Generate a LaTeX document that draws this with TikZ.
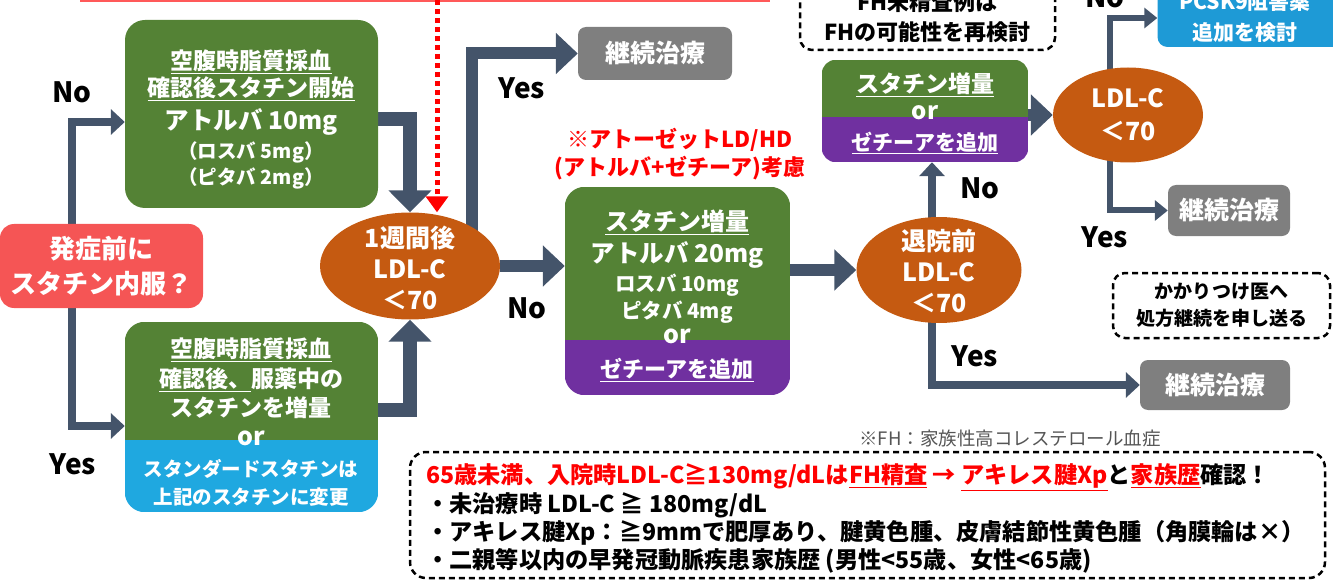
\documentclass[tikz,border=0pt]{standalone}
\usepackage{fontspec}
\setmainfont{Noto Sans CJK JP}
\usetikzlibrary{arrows.meta,shapes.geometric}
\pgfdeclarelayer{bg}
\pgfsetlayers{bg,main}
\definecolor{grn}{HTML}{548235}
\definecolor{pur}{HTML}{7030A0}
\definecolor{blu}{HTML}{1FA8E0}
\definecolor{blutwo}{HTML}{1E9AD6}
\definecolor{org}{HTML}{C55A11}
\definecolor{gry}{HTML}{7F7F7F}
\definecolor{rbx}{HTML}{F55555}
\definecolor{arr}{HTML}{44546A}
\definecolor{fhgray}{HTML}{555555}
\newcommand\jf[1]{\fontsize{#1}{#1}\selectfont\bfseries}
\newcommand\jfl[2]{\fontsize{#1}{#2}\selectfont\bfseries}
\begin{document}
\begin{tikzpicture}[x=1pt,y=-1pt,
  box/.style={rectangle, rounded corners=20pt, draw=none, inner sep=0pt},
  gbox/.style={rectangle, rounded corners=8pt, fill=gry, draw=none, inner sep=0pt, text=white, font=\jf{25}},
  ell/.style={ellipse, fill=org, draw=none, inner sep=0pt},
  etext/.style={text=white, align=center, inner sep=0pt, font=\jfl{25}{31}},
  wt/.style={text=white, inner sep=0pt},
  lbl/.style={text=black, inner sep=0pt, font=\jf{28}},
  dbox/.style={rectangle, draw=black, line width=2.5pt, dash pattern=on 6pt off 4pt, rounded corners=12pt, inner sep=0pt},
  big/.style={draw=arr, line width=12pt, -{Triangle[width=40pt,length=22pt]}},
  mid/.style={draw=arr, line width=8pt, -{Triangle[width=25pt,length=14pt]}},
  sml/.style={draw=arr, line width=6pt, -{Triangle[width=20pt,length=13pt]}},
  rdot/.style={draw=red, line width=5pt, dash pattern=on 5pt off 4pt, -{Triangle[width=22pt,length=16pt]}},
  rtext/.style={text=red, inner sep=0pt, font=\jf{22}},
  btext/.style={anchor=west, inner sep=0pt, font=\jf{23.2}}
]
\useasboundingbox (0,0) rectangle (1333,580);

% top red line (cut-off text underline)
\coordinate (rla) at (80,1.5);
\coordinate (rlb) at (770,1.5);
\draw[red!65, line width=2pt] (rla) -- (rlb);

% red start box
\node[box, rounded corners=14pt, fill=rbx, minimum width=203, minimum height=84, text=white, align=center, font=\jfl{26}{35}] (rb) at (101.5,266) {発症前に\\スタチン内服？};

% box 1
\node[box, fill=grn, minimum width=253, minimum height=188] (b1) at (251.5,114) {};
\node[wt, font=\jf{23}] (b1a) at (251,62) {\underline{空腹時脂質採血}};
\node[wt, font=\jf{23}] (b1b) at (251,89) {\underline{確認後スタチン開始}};
\node[wt, font=\jf{24.5}] (b1c) at (251,122) {アトルバ 10mg};
\node[wt, font=\jf{19.5}] (b1d) at (251,152) {（ロスバ 5mg）};
\node[wt, font=\jf{19.5}] (b1e) at (251,178) {（ピタバ 2mg）};

% box 2
\node[box, minimum width=253, minimum height=190] (b2) at (251.5,417) {};
\coordinate (b2m) at (0,440);
\begin{scope}
  \clip[rounded corners=20pt] (b2.north west) rectangle (b2.south east);
  \fill[grn] (b2.north west) rectangle (b2.east |- b2m);
  \fill[blu] (b2.west |- b2m) rectangle (b2.south east);
\end{scope}
\node[wt, font=\jf{23}] (b2a) at (251,350) {\underline{空腹時脂質採血}};
\node[wt, font=\jf{23}] (b2b) at (251,380) {\underline{確認後、}服薬中の};
\node[wt, font=\jf{23}] (b2c) at (251,408) {スタチンを増量};
\node[wt, font=\jf{25}] (b2d) at (251,438) {or};
\node[wt, font=\jf{19.5}] (b2e) at (251,469) {スタンダードスタチンは};
\node[wt, font=\jf{19.5}] (b2f) at (251,497) {上記のスタチンに変更};

% ellipse 1
\node[ell, minimum width=180, minimum height=107] (e1) at (410,266) {};
\node[etext] (e1t) at (410,268) {1週間後\\LDL-C\\＜70};

% gray box 1
\node[gbox, minimum width=154, minimum height=53] (g1) at (655,53.5) {継続治療};

% red annotation
\node[rtext] (ra) at (680,140) {※アトーゼットLD/HD};
\node[rtext] (rbt) at (680,168) {(アトルバ+ゼチーア)考慮};

% box 3
\node[box, minimum width=225, minimum height=208] (b3) at (677.5,291) {};
\coordinate (b3m) at (0,340);
\begin{scope}
  \clip[rounded corners=20pt] (b3.north west) rectangle (b3.south east);
  \fill[grn] (b3.north west) rectangle (b3.east |- b3m);
  \fill[pur] (b3.west |- b3m) rectangle (b3.south east);
\end{scope}
\node[wt, font=\jf{24}] (b3a) at (677,222) {\underline{スタチン増量}};
\node[wt, font=\jf{24.5}] (b3b) at (677,255) {アトルバ 20mg};
\node[wt, font=\jf{20.5}] (b3c) at (677,285) {ロスバ 10mg};
\node[wt, font=\jf{20.5}] (b3d) at (677,312) {ピタバ 4mg};
\node[wt, font=\jf{25}] (b3e) at (677,336) {or};
\node[wt, font=\jf{22}] (b3f) at (677,370) {\underline{ゼチーアを追加}};

% ellipse 2
\node[ell, minimum width=165, minimum height=106] (e2) at (939,270) {};
\node[etext] (e2t) at (939,271) {退院前\\LDL-C\\＜70};

% FH dashed box (top)
\node[dbox, minimum width=255, minimum height=90] (fh) at (927.5,5) {};
\node[inner sep=0pt, font=\jf{22}] (fha) at (927.5,2) {FH未精査例は};
\node[inner sep=0pt, font=\jf{22}] (fhb) at (927.5,32) {FHの可能性を再検討};

% box 4
\node[box, rounded corners=14pt, minimum width=206, minimum height=102] (b4) at (925,111) {};
\coordinate (b4m) at (0,117);
\begin{scope}
  \clip[rounded corners=14pt] (b4.north west) rectangle (b4.south east);
  \fill[grn] (b4.north west) rectangle (b4.east |- b4m);
  \fill[pur] (b4.west |- b4m) rectangle (b4.south east);
\end{scope}
\node[wt, font=\jf{23}] (b4a) at (925,85) {\underline{スタチン増量}};
\node[wt, font=\jf{24}] (b4b) at (925,113) {or};
\node[wt, font=\jf{21}] (b4c) at (925,143) {\underline{ゼチーアを追加}};

% ellipse 3
\node[ell, minimum width=150, minimum height=95] (e3) at (1128,115) {};
\node[etext, font=\jfl{25}{33}] (e3t) at (1128,115) {LDL-C\\＜70};

% PCSK9 box
\node[box, rounded corners=10pt, fill=blutwo, minimum width=185, minimum height=88] (pc) at (1250,3) {};
\node[wt, font=\jf{21}] (pca) at (1245,2) {PCSK9阻害薬};
\node[wt, font=\jf{21}] (pcb) at (1245,33) {追加を検討};

% gray boxes right
\node[gbox, minimum width=122, minimum height=51] (g2) at (1229,210.5) {継続治療};
\node[gbox, minimum width=150, minimum height=50] (g3) at (1215,385) {継続治療};

% dashed box right
\node[dbox, minimum width=217, minimum height=65, align=center, font=\jfl{19}{27}] (kk) at (1221.5,305.5) {かかりつけ医へ\\処方継続を申し送る};

% footnote
\node[inner sep=0pt, text=fhgray, font=\fontsize{18.5}{18.5}\selectfont] (fn) at (1010,438) {※FH：家族性高コレステロール血症};

% bottom dashed box
\node[dbox, rounded corners=16pt, minimum width=915, minimum height=126] (bt) at (867.5,515) {};
\node[btext] (bt1) at (426,477) {\textcolor{red}{65歳未満、入院時LDL-C≧130mg/dLは\underline{FH精査} → \underline{アキレス腱Xp}}と\textcolor{red}{\underline{家族歴}}確認！};
\node[btext] (bt2) at (426,505) {・未治療時 LDL-C ≧ 180mg/dL};
\node[btext] (bt3) at (426,533) {・アキレス腱Xp：≧9mmで肥厚あり、腱黄色腫、皮膚結節性黄色腫（角膜輪は×）};
\node[btext] (bt4) at (426,561) {・二親等以内の早発冠動脈疾患家族歴 (男性<55歳、女性<65歳)};

% labels
\node[lbl] (l1) at (72,92) {No};
\node[lbl] (l2) at (73,464) {Yes};
\node[lbl] (l3) at (522,88) {Yes};
\node[lbl] (l4) at (527,308) {No};
\node[lbl] (l5) at (980,188) {No};
\node[lbl] (l6) at (975,356) {Yes};
\node[lbl] (l7) at (1105,237) {Yes};
\node[lbl] (l8) at (1105,-3) {No};

% connectors
\coordinate (lx) at (72,0);
\coordinate (rd) at (437,0);
\coordinate (yx) at (472,0);
\coordinate (nx) at (932,0);
\coordinate (vx) at (1110,0);
\coordinate (py) at (0,18);
\begin{pgfonlayer}{bg}
  \draw[mid] (rb.north -| lx) |- ([yshift=-8pt]b1.west);
  \draw[mid] (rb.south -| lx) |- ([yshift=-9pt]b2.west);
  \draw[big, line width=14pt, -{Triangle[width=42pt,length=22pt]}] ([yshift=-5pt]b1.east) -| (e1.north);
  \draw[big, line width=14pt, -{Triangle[width=42pt,length=22pt]}] ([yshift=7pt]b2.east) -| (e1.south);
  \draw[big] (e1.center -| yx) |- (g1.west);
  \draw[big] (e1.east) -- (b3.west |- e1.east);
  \draw[big] (b3.east |- e2.west) -- (e2.west);
  \draw[mid] (e2.center -| nx) -- (b4.south -| nx);
  \draw[mid] (e2.center -| nx) |- (g3.west);
  \draw[big] (b4.east |- e3.west) -- (e3.west);
  \draw[sml] (e3.center -| vx) |- (pc.west |- py);
  \draw[sml] (e3.center -| vx) |- (g2.west);
\end{pgfonlayer}
\draw[rdot] (rd) -- (rd |- e1.north);
\end{tikzpicture}
\end{document}
